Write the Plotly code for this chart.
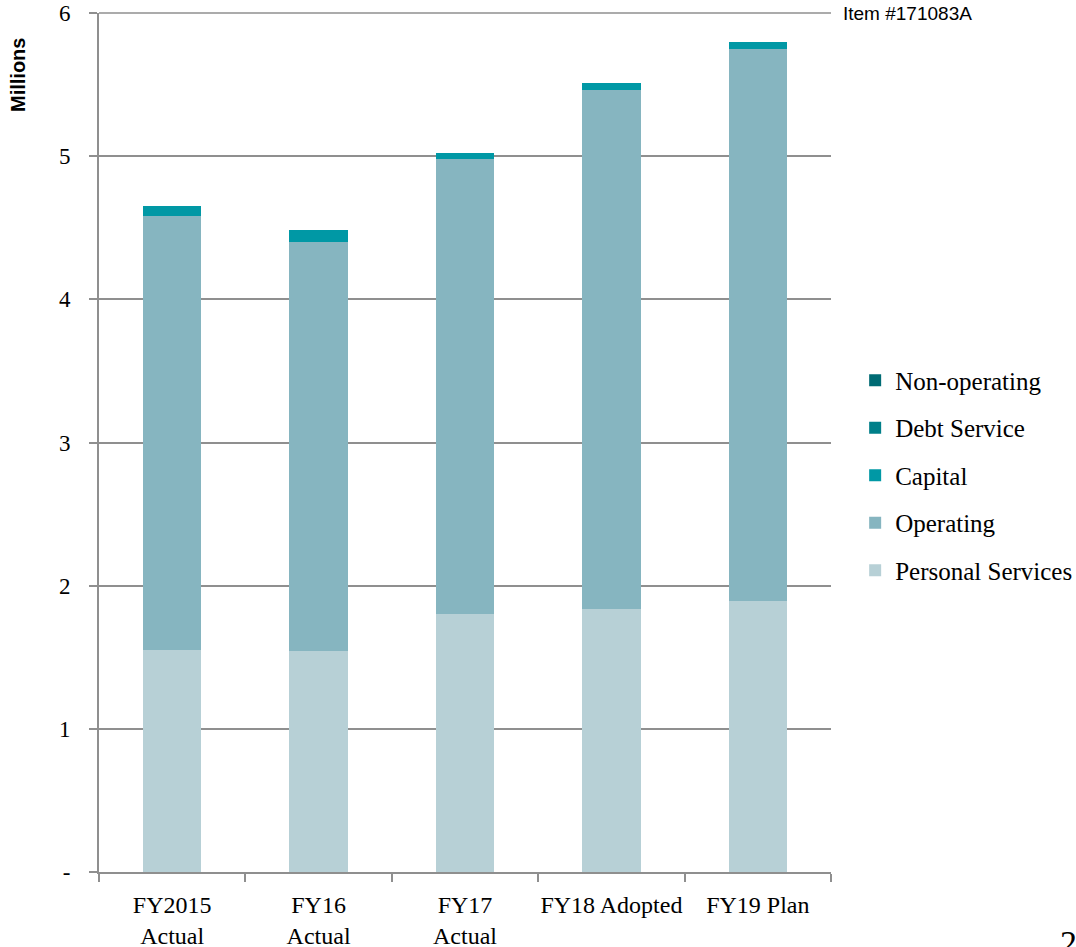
import plotly.graph_objects as go

categories = ["FY2015<br>Actual", "FY16<br>Actual", "FY17<br>Actual", "FY18 Adopted", "FY19 Plan"]
personal_services = [1.551, 1.544, 1.802, 1.837, 1.893]
operating = [3.031, 2.856, 3.180, 3.624, 3.855]
capital = [0.070, 0.084, 0.038, 0.047, 0.049]
debt_service = [0, 0, 0, 0, 0]
non_operating = [0, 0, 0, 0, 0]
y_tick_vals = [0, 1, 2, 3, 4, 5, 6]
y_tick_text = ["-", "1", "2", "3", "4", "5", "6"]

series = [
    ("Personal Services", personal_services, "#b7d0d6", 5),
    ("Operating", operating, "#86b5c0", 4),
    ("Capital", capital, "#0098a5", 3),
    ("Debt Service", debt_service, "#007f89", 2),
    ("Non-operating", non_operating, "#006b74", 1),
]

fig = go.Figure()
for name, vals, color, rank in series:
    fig.add_trace(go.Bar(
        x=categories, y=vals, name=name, legendgroup=name, legendrank=rank,
        marker=dict(color=color, line=dict(width=0)),
    ))

serif = "Liberation Serif, Times New Roman, serif"
sans = "Liberation Sans, Arial, sans-serif"
grey = "#8f8f8f"

fig.update_layout(
    width=1076, height=947,
    barmode="stack", bargap=0.6,
    plot_bgcolor="white", paper_bgcolor="white",
    margin=dict(l=99, r=245, t=13, b=75, autoexpand=False),
    showlegend=True,
    legend=dict(
        x=1.033, xanchor="left", y=0.4616, yanchor="middle",
        traceorder="grouped", tracegroupgap=12,
        font=dict(family=serif, size=25, color="black"),
        bgcolor="rgba(0,0,0,0)",
    ),
    xaxis=dict(
        automargin=False, tickangle=0,
        showline=True, linecolor=grey, linewidth=2,
        ticks="outside", tickson="boundaries", ticklen=8, tickcolor=grey, tickwidth=1.5,
        tickfont=dict(family=serif, size=24, color="black"),
        ticklabelstandoff=10,
        showgrid=False,
    ),
    yaxis=dict(
        automargin=False, ticklabeloverflow="allow",
        range=[0, 6], tickvals=y_tick_vals, ticktext=y_tick_text,
        showline=True, linecolor=grey, linewidth=2,
        ticks="outside", ticklen=8, tickcolor=grey, tickwidth=1.5,
        tickfont=dict(family=serif, size=23, color="black"),
        ticklabelstandoff=14,
        showgrid=True, gridcolor=grey, gridwidth=1.5,
        zeroline=False,
    ),
    shapes=[
        # top gridline at the range end (plotly omits gridlines on the plot edge)
        dict(type="line", xref="paper", yref="paper", x0=0, x1=1, y0=1, y1=1,
             line=dict(color=grey, width=1.5), layer="below"),
    ],
    annotations=[
        dict(text="<b>Millions</b>", textangle=-90, x=(18 - 99) / 732, xref="paper",
             y=(872 - 75) / 859, yref="paper",
             xanchor="center", yanchor="middle", showarrow=False,
             font=dict(family=sans, size=20, color="black")),
        dict(text="Item #171083A", x=1.0, xref="paper", y=1.0, yref="paper",
             xanchor="left", yanchor="middle", xshift=10, showarrow=False,
             font=dict(family=sans, size=19, color="black")),
        dict(text="2", x=1.31, xref="paper", y=-0.082, yref="paper",
             xanchor="left", yanchor="middle", showarrow=False,
             font=dict(family=serif, size=34, color="black")),
    ],
)

fig.write_html(
    "out.html",
    config={"displayModeBar": False},
    post_script="document.body.style.margin='0';document.body.style.padding='0';"
                "document.body.style.overflow='hidden';",
)
